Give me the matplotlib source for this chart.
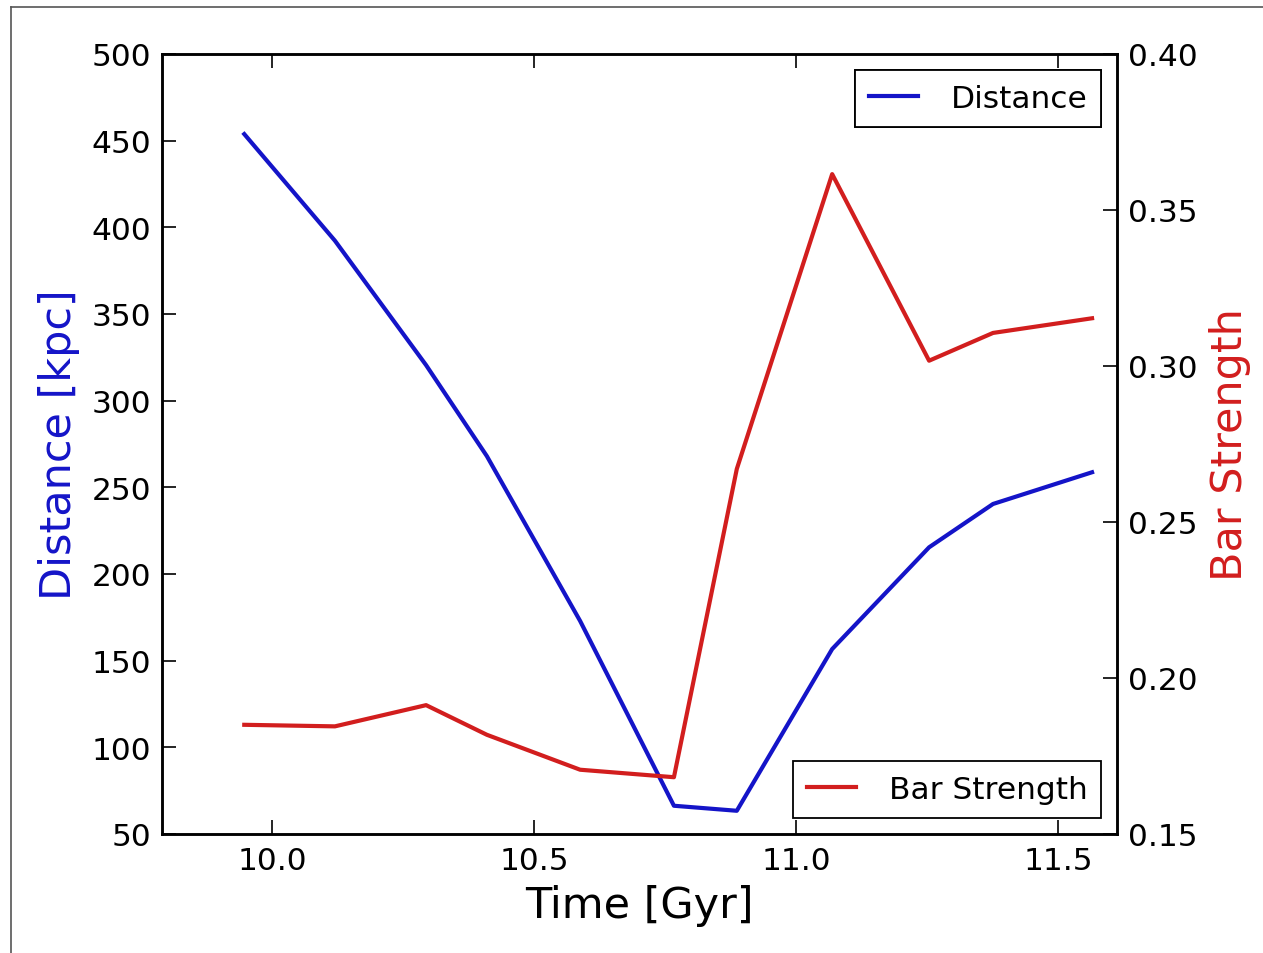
import matplotlib
matplotlib.use("Agg")
import matplotlib.pyplot as plt
from matplotlib.lines import Line2D

time_gyr = [9.947, 10.120, 10.294, 10.410, 10.588, 10.767, 10.887, 11.069, 11.254, 11.376, 11.565]
distance_kpc = [453.8, 392.3, 320.5, 268.0, 172.9, 66.3, 63.4, 156.7, 215.4, 240.4, 258.7]
bar_strength = [0.1850, 0.1845, 0.1913, 0.1818, 0.1706, 0.1682, 0.2670, 0.3615, 0.3017, 0.3106, 0.3153]

x_ticks = [10.0, 10.5, 11.0, 11.5]
left_ticks = [50, 100, 150, 200, 250, 300, 350, 400, 450, 500]
right_ticks = [0.15, 0.20, 0.25, 0.30, 0.35, 0.40]

BLUE = '#1414c8'
RED = '#d21e1e'

plt.rcParams['font.family'] = ['DejaVu Sans']
fig = plt.figure(figsize=(12.63, 9.54), dpi=100, facecolor='white')
ax = fig.add_axes([162/1263, 1-835/954, (1117-162)/1263, (835-55)/954])
ax2 = ax.twinx()

l1, = ax.plot(time_gyr, distance_kpc, color=BLUE, lw=3, label='Distance')
l2, = ax2.plot(time_gyr, bar_strength, color=RED, lw=3, label='Bar Strength')

ax.set_xlim(9.79, 11.6126)
ax.set_ylim(50, 500)
ax2.set_ylim(0.15, 0.40)
ax.set_xticks(x_ticks)
ax.set_xticklabels([f'{v:.1f}' for v in x_ticks])
ax.set_yticks(left_ticks)
ax2.set_yticks(right_ticks)
ax2.set_yticklabels([f'{v:.2f}' for v in right_ticks])

for a in (ax, ax2):
    for s in a.spines.values():
        s.set_linewidth(1.8)
        s.set_color('black')

ax.tick_params(axis='x', which='major', direction='in', top=True, bottom=True,
               length=10, width=1.2, labelsize=22.5, pad=9)
ax.tick_params(axis='y', which='major', direction='in', left=True, right=False,
               length=10, width=1.2, labelsize=22.5, pad=8)
ax2.tick_params(axis='y', which='major', direction='in', right=True, left=False,
                length=10, width=1.2, labelsize=22.5, pad=8)

ax.set_xlabel('Time [Gyr]', fontsize=31, labelpad=6)
ax.set_ylabel('Distance [kpc]', fontsize=31, color=BLUE, labelpad=8)
ax2.set_ylabel('Bar Strength', fontsize=31, color=RED, labelpad=8)

legkw = dict(fontsize=22.5, fancybox=False, framealpha=1, edgecolor='black',
             borderaxespad=0.5, handlelength=1.55, handletextpad=1.05,
             borderpad=0.45)
leg1 = ax.legend(handles=[l1], loc='upper right', **legkw)
leg1.get_frame().set_linewidth(1.3)
ax.add_artist(leg1)
leg2 = ax2.legend(handles=[l2], loc='lower right', **legkw)
leg2.get_frame().set_linewidth(1.3)

# screenshot border (top and left)
fig.add_artist(Line2D([11/1263, 1.0], [1-8/954, 1-8/954], transform=fig.transFigure,
                      color='#555555', lw=1.2))
fig.add_artist(Line2D([11/1263, 11/1263], [0.0, 1-8/954], transform=fig.transFigure,
                      color='#555555', lw=1.2))

fig.savefig('out.png', dpi=100, facecolor='white')
